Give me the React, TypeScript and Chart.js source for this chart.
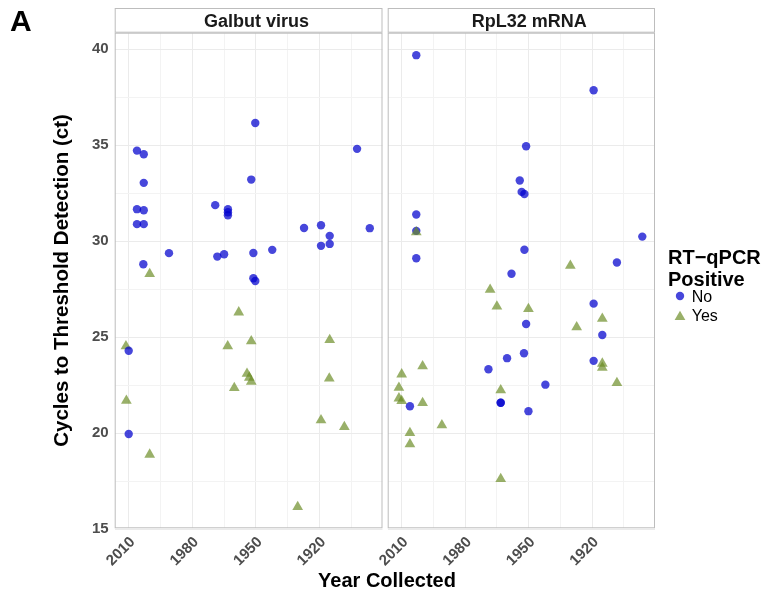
import React, { useEffect, useRef } from 'react';
import { Chart, registerables } from 'chart.js';
Chart.register(...registerables);

// ---- axis ticks ----
const yearTicks = [2010, 1995, 1980, 1965, 1950, 1935, 1920, 1905];
const yearLabels = [2010, 1980, 1950, 1920];
const ctTicks = [15, 17.5, 20, 22.5, 25, 27.5, 30, 32.5, 35, 37.5, 40];
const ctLabels = [15, 20, 25, 30, 35, 40];

// ---- facet labels ----
const facets = ['Galbut virus', 'RpL32 mRNA'];
const legendTitle = ['RT\u2212qPCR', 'Positive'];
const legendLabels = ['No', 'Yes'];

// ---- Galbut virus ----
const galbutNoYear = [2006.1, 2002.9, 2002.9, 1950.3, 1952.2, 1902.3, 2006.1, 2002.9, 2006.1, 2002.9, 1969.2, 1963.2, 1963.2, 1963.2, 1927.3, 1919.3, 1915.2, 1919.3, 1915.2, 1896.3, 1991.0, 2003.1, 1968.2, 1965.0, 1951.2, 1942.3, 1951.2, 1950.3, 2010.0, 2010.0];
const galbutNoCt = [34.72, 34.53, 33.04, 36.16, 33.21, 34.81, 31.67, 31.61, 30.89, 30.89, 31.88, 31.67, 31.51, 31.35, 30.69, 30.83, 30.28, 29.76, 29.86, 30.68, 29.38, 28.8, 29.2, 29.32, 29.39, 29.55, 28.07, 27.93, 24.3, 19.96];
const galbutYesYear = [2000.1, 1958.1, 2011.3, 1963.3, 1952.2, 1915.2, 1954.2, 1953.1, 1952.2, 1960.2, 1915.4, 2011.1, 2000.1, 1919.3, 1908.3, 1930.3];
const galbutYesCt = [28.3, 26.3, 24.53, 24.53, 24.79, 24.86, 23.1, 22.9, 22.69, 22.36, 22.86, 21.7, 18.89, 20.68, 20.33, 16.16];

// ---- RpL32 mRNA ----
const rplNoYear = [2003.1, 1919.3, 1951.2, 1954.2, 1953.3, 1952.0, 2003.1, 2003.1, 2003.1, 1896.3, 1952.0, 1908.3, 1958.1, 1919.3, 1951.2, 1915.2, 1952.2, 1960.2, 1919.3, 1969.0, 2006.1, 1963.2, 1963.2, 1942.1, 1950.1];
const rplNoCt = [39.69, 37.86, 34.95, 33.16, 32.57, 32.46, 31.39, 30.54, 29.11, 30.24, 29.56, 28.89, 28.31, 26.75, 25.69, 25.12, 24.17, 23.91, 23.77, 23.33, 21.41, 21.59, 21.59, 22.53, 21.15];
const rplYesYear = [2003.1, 1930.3, 1968.2, 1965.0, 1950.1, 1915.2, 1927.3, 1915.2, 1915.2, 2000.1, 2010.0, 1908.3, 2011.3, 1963.2, 2011.3, 2010.0, 2000.1, 1991.0, 2006.1, 2006.1, 1963.2];
const rplYesCt = [30.47, 28.73, 27.48, 26.6, 26.47, 25.97, 25.52, 23.63, 23.42, 23.49, 23.07, 22.62, 22.37, 22.24, 21.82, 21.68, 21.58, 20.42, 20.02, 19.43, 17.62];

const FONT = '"Liberation Sans", Arial, Helvetica, sans-serif';
const BLUE = 'rgba(0,0,205,0.72)';
const GREEN = 'rgba(105,139,34,0.68)';
const X_MIN = 1890.3;
const X_MAX = 2016.6;
const Y_MIN = 15.05;
const Y_MAX = 40.86;
const PANEL_TOP = 32.7;
const PANEL_BOTTOM = 528.3;
const STRIP_TOP = 8;
const XAXIS_H = 60;
const CANVAS_H = 596;

const zip = (xs: number[], ys: number[]) => xs.map((x, i) => ({ x, y: ys[i] }));

const facetPlugin = {
  id: 'facetStrip',
  afterDraw(chart: any, _args: any, opts: any) {
    const { ctx, chartArea: a } = chart;
    ctx.save();
    ctx.strokeStyle = '#BDBDBD';
    ctx.lineWidth = 1;
    ctx.fillStyle = '#FFFFFF';
    ctx.fillRect(a.left, STRIP_TOP, a.right - a.left, a.top - STRIP_TOP);
    ctx.strokeRect(a.left + 0.5, STRIP_TOP + 0.5, a.right - a.left - 1, a.top - STRIP_TOP - 1);
    ctx.strokeRect(a.left + 0.5, a.top + 0.5, a.right - a.left - 1, a.bottom - a.top - 1);
    ctx.fillStyle = '#1A1A1A';
    ctx.font = `bold 18px ${FONT}`;
    ctx.textAlign = 'center';
    ctx.textBaseline = 'alphabetic';
    ctx.fillText(opts.label, (a.left + a.right) / 2 + 8, 26.5);
    ctx.restore();
  },
};

function makeConfig(
  noX: number[], noY: number[], yesX: number[], yesY: number[],
  label: string, showY: boolean, canvasW: number, areaLeft: number, areaRight: number,
  yesOnTop: boolean
): any {
  const gridColor = (c: any) => {
    const v = c.tick ? c.tick.value : 0;
    const major = yearLabels.includes(v) || ctLabels.includes(v);
    return major ? '#EBEBEB' : '#F3F3F3';
  };
  return {
    type: 'scatter',
    data: {
      datasets: [
        {
          label: 'No',
          data: zip(noX, noY),
          order: yesOnTop ? 1 : 0,
          pointStyle: 'circle',
          pointRadius: 4.2,
          pointBorderWidth: 0,
          backgroundColor: BLUE,
          borderColor: BLUE,
        },
        {
          label: 'Yes',
          data: zip(yesX, yesY),
          order: yesOnTop ? 0 : 1,
          pointStyle: 'triangle',
          pointRadius: 6.2,
          pointBorderWidth: 0,
          backgroundColor: GREEN,
          borderColor: GREEN,
        },
      ],
    },
    options: {
      responsive: false,
      animation: false,
      devicePixelRatio: 1,
      events: [],
      layout: {
        autoPadding: false,
        padding: {
          left: showY ? 0 : areaLeft,
          right: canvasW - areaRight,
          top: PANEL_TOP,
          bottom: CANVAS_H - PANEL_BOTTOM - XAXIS_H,
        },
      },
      plugins: {
        legend: { display: false },
        tooltip: { enabled: false },
        facetStrip: { label },
      },
      scales: {
        x: {
          type: 'linear',
          reverse: true,
          min: X_MIN,
          max: X_MAX,
          afterBuildTicks: (s: any) => { s.ticks = yearTicks.map((v) => ({ value: v })); },
          afterFit: (s: any) => { s.height = XAXIS_H; s.paddingLeft = 0; s.paddingRight = 0; },
          border: { display: false },
          grid: { drawTicks: false, color: gridColor, lineWidth: 1 },
          ticks: {
            autoSkip: false,
            minRotation: 45,
            maxRotation: 45,
            padding: 5,
            labelOffset: 4,
            color: '#4D4D4D',
            font: { family: FONT, size: 15, weight: 'bold' },
            callback: (v: number) => (yearLabels.includes(v) ? String(v) : ''),
          },
        },
        y: {
          type: 'linear',
          min: Y_MIN,
          max: Y_MAX,
          afterBuildTicks: (s: any) => { s.ticks = ctTicks.map((v) => ({ value: v })); },
          afterFit: (s: any) => { s.width = showY ? areaLeft : 0; s.paddingTop = 0; s.paddingBottom = 0; },
          border: { display: false },
          grid: { drawTicks: false, color: gridColor, lineWidth: 1 },
          ticks: {
            display: showY,
            padding: 6,
            color: '#4D4D4D',
            font: { family: FONT, size: 15, weight: 'bold' },
            callback: (v: number) => (ctLabels.includes(v) ? String(v) : ''),
          },
          title: {
            display: showY,
            text: 'Cycles to Threshold Detection (ct)',
            color: '#000000',
            font: { family: FONT, size: 20.5, weight: 'bold' },
            padding: { top: 50, bottom: 0 },
          },
        },
      },
    },
    plugins: [facetPlugin],
  };
}

const C2_LEFT = 340;

export default function App() {
  const c1 = useRef<HTMLCanvasElement>(null);
  const c2 = useRef<HTMLCanvasElement>(null);
  useEffect(() => {
    document.body.style.margin = '0';
    const ch1 = new Chart(c1.current!, makeConfig(galbutNoYear, galbutNoCt, galbutYesYear, galbutYesCt, facets[0], true, 385, 114.7, 382.5, false));
    const ch2 = new Chart(c2.current!, makeConfig(rplNoYear, rplNoCt, rplYesYear, rplYesCt, facets[1], false, 766 - C2_LEFT, 387.7 - C2_LEFT, 655 - C2_LEFT, true));
    return () => { ch1.destroy(); ch2.destroy(); };
  }, []);

  const abs = (left: number, top: number, extra: any = {}) => ({
    position: 'absolute' as const, left, top, whiteSpace: 'nowrap' as const, ...extra,
  });

  return (
    <div style={{ position: 'fixed', left: 0, top: 0, width: 766, height: 596, background: '#fff', overflow: 'hidden', fontFamily: FONT }}>
      <canvas ref={c1} width={385} height={596} style={{ position: 'absolute', left: 0, top: 0 }} />
      <canvas ref={c2} width={766 - C2_LEFT} height={596} style={{ position: 'absolute', left: C2_LEFT, top: 0 }} />
      <div style={abs(10, 5.6, { fontSize: 30, lineHeight: '30px', fontWeight: 'bold', color: '#000' })}>A</div>
      <div style={abs(0, 570, { width: 774, textAlign: 'center', fontSize: 20, lineHeight: '20px', fontWeight: 'bold', color: '#000' })}>Year Collected</div>
      <div style={abs(668, 246, { fontSize: 20, lineHeight: '22px', fontWeight: 'bold', color: '#000' })}>
        {legendTitle[0]}<br />{legendTitle[1]}
      </div>
      <svg width={20} height={40} style={{ position: 'absolute', left: 670, top: 286 }}>
        <circle cx={10} cy={10} r={4.2} fill={BLUE} />
        <polygon points={`10,${31 - 6.2} ${10 + 5.37},${31 + 3.1} ${10 - 5.37},${31 + 3.1}`} fill={GREEN} />
      </svg>
      <div style={abs(691.7, 289, { fontSize: 16, lineHeight: '16px', color: '#000' })}>{legendLabels[0]}</div>
      <div style={abs(691.7, 308, { fontSize: 16, lineHeight: '16px', color: '#000' })}>{legendLabels[1]}</div>
    </div>
  );
}
